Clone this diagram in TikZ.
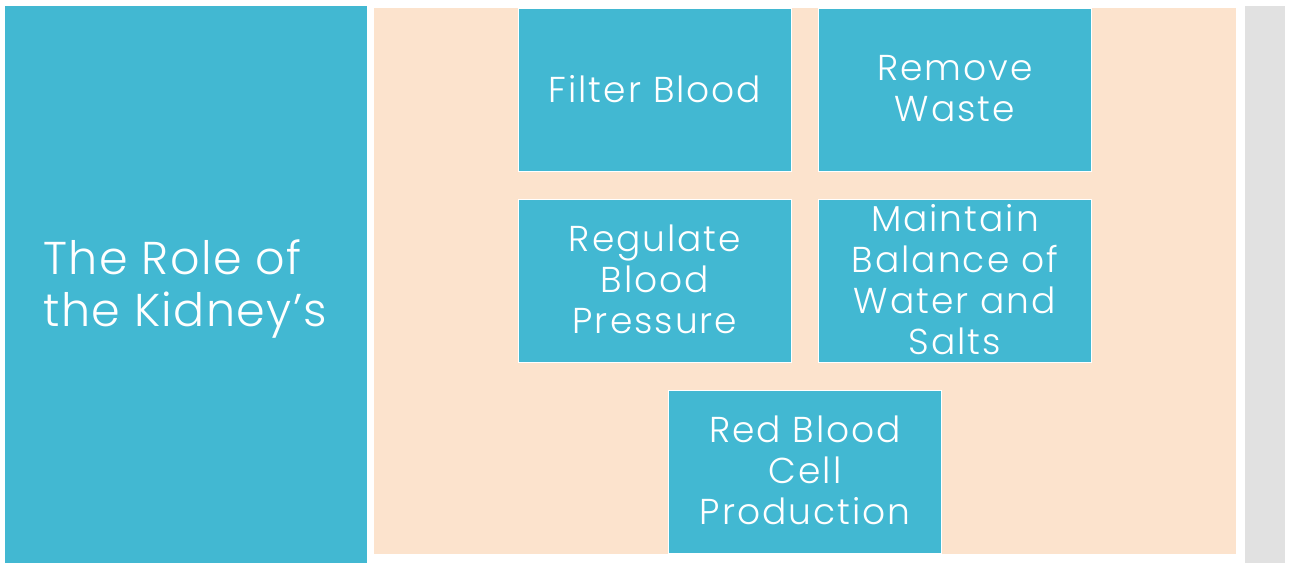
\documentclass[tikz,border=0pt]{standalone}
\usepackage{fontspec}
\setmainfont{Poppins}[UprightFont=* Light]
\newfontfamily\boxfont{Poppins}[UprightFont=* Light,LetterSpace=5.5]
\newfontfamily\titlefont{Poppins}[UprightFont=* Light,LetterSpace=3]
\definecolor{tealblue}{RGB}{66,184,210}
\definecolor{peach}{RGB}{252,227,205}
\definecolor{panelgray}{RGB}{225,225,225}
\begin{document}
\begin{tikzpicture}[x=1pt,y=-1pt,
  task/.style={fill=tealblue,draw=white,line width=1pt,minimum width=273pt,minimum height=163pt,
    inner sep=0pt,text=white,align=center,font=\boxfont\fontsize{36}{41}\selectfont,anchor=north west,
    text depth=3pt}]
  \useasboundingbox (0,0) rectangle (1292,563);
  \fill[white] (0,0) rectangle (1292,563);
  % title panel, background and side strip
  \fill[tealblue] (5,6) rectangle (367,563);
  \fill[peach] (374,8) rectangle (1236,554);
  \fill[panelgray] (1245,6) rectangle (1285,563);
  \node[anchor=west,text=white,align=left,font=\titlefont\fontsize{46}{52}\selectfont] (title) at (40,289)
    {The Role of\\the Kidney’s};
  % the five functions
  \node[task] (filter) at (518,8) {Filter Blood};
  \node[task] (waste) at (818,8) {Remove\\Waste};
  \node[task] (pressure) at (518,199) {Regulate\\Blood\\Pressure};
  \node[task] (balance) at (818,199) {Maintain\\Balance of\\Water and\\Salts};
  \node[task] (rbc) at (668,390) {Red Blood\\Cell\\Production};
\end{tikzpicture}
\end{document}
